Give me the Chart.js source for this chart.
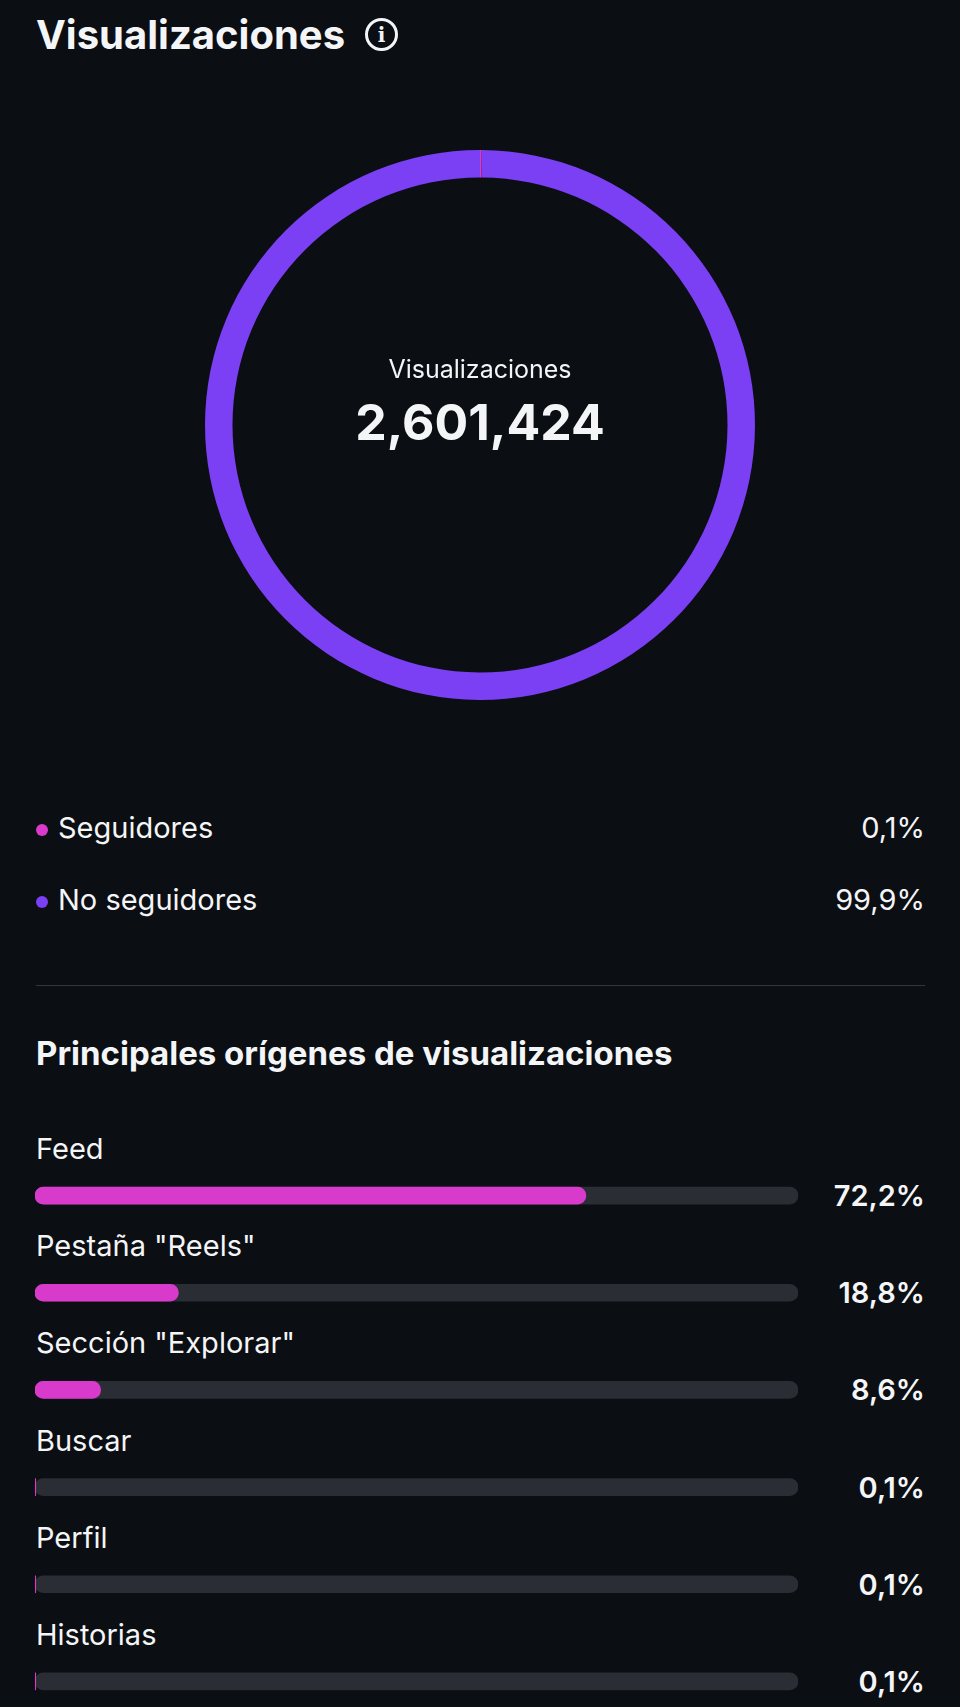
<!DOCTYPE html>
<html>
<head>
<meta charset="utf-8">
<script src="https://cdn.jsdelivr.net/npm/chart.js@4"></script>
<style>
  html, body { margin: 0; padding: 0; background: #0b0e12; overflow: hidden; }
  body { width: 960px; height: 1707px; position: relative; font-family: Inter, "Noto Sans", sans-serif; color: #f4f5f7; }
  .abs { position: absolute; }
  .title { left: 36px; top: 10px; font-size: 40px; font-weight: 700; display: flex; align-items: center; }
  .info { margin-left: 20px; width: 27px; height: 27px; border: 3px solid #f4f5f7; border-radius: 50%; font-size: 20px; font-weight: 800; display: flex; align-items: center; justify-content: center; font-family: "DejaVu Serif", serif; }
  .center { left: 180px; width: 600px; text-align: center; }
  .legend { left: 36px; right: 35px; font-size: 29px; display: flex; justify-content: space-between; align-items: center; }
  .dot { display: inline-block; width: 12px; height: 12px; border-radius: 50%; margin-right: 10px; vertical-align: middle; }
  .divider { left: 36px; right: 35px; top: 985px; height: 1px; background: #33373d; }
  .heading { left: 36px; top: 1033px; font-size: 33px; font-weight: 700; }
  .label { left: 36px; font-size: 29px; }
  .val { right: 35px; font-size: 29px; font-weight: 600; }
</style>
</head>
<body>
<div class="abs title">Visualizaciones <span class="info">i</span></div>

<canvas id="donut" class="abs" style="left:180px;top:125px;width:600px;height:600px"></canvas>
<div class="abs center" style="top:354px;font-size:25px;">Visualizaciones</div>
<div class="abs center" style="top:392px;font-size:50px;font-weight:700;" id="total"></div>

<div id="legend"></div>
<div class="abs divider"></div>
<div class="abs heading">Principales orígenes de visualizaciones</div>
<div id="rows"></div>

<canvas id="bars" class="abs" style="left:35px;top:1147px;width:763px;height:583px"></canvas>

<script>
// Datos
const totalViews = 2601424;
const audienceLabels = ['Seguidores', 'No seguidores'];
const audienceValues = [0.1, 99.9];
const audienceColors = ['#d83acb', '#7b3ff4'];

const sourceLabels = ['Feed', 'Pestaña "Reels"', 'Sección "Explorar"', 'Buscar', 'Perfil', 'Historias'];
const sourceValues = [72.2, 18.8, 8.6, 0.1, 0.1, 0.1];

const fmt = v => v.toFixed(1).replace('.', ',') + '%';

document.getElementById('total').textContent = totalViews.toLocaleString('en-US');

// Leyenda
const legendTops = [810, 882];
document.getElementById('legend').innerHTML = audienceLabels.map((l, i) => `
  <div class="abs legend" style="top:${legendTops[i]}px">
    <span><span class="dot" style="background:${audienceColors[i]}"></span>${l}</span>
    <span>${fmt(audienceValues[i])}</span>
  </div>`).join('');

// Filas de orígenes
const step = 97.2;
document.getElementById('rows').innerHTML = sourceLabels.map((l, i) => `
  <div class="abs label" style="top:${1131 + i * step}px">${l}</div>
  <div class="abs val" style="top:${1178 + i * step}px">${fmt(sourceValues[i])}</div>`).join('');

new Chart(document.getElementById('donut'), {
  type: 'doughnut',
  data: {
    labels: audienceLabels,
    datasets: [{ data: audienceValues, backgroundColor: audienceColors, borderWidth: 0 }]
  },
  options: {
    responsive: false, animation: false, cutout: '90%',
    layout: { padding: 25 },
    plugins: { legend: { display: false }, tooltip: { enabled: false } }
  }
});

new Chart(document.getElementById('bars'), {
  type: 'bar',
  data: {
    labels: sourceLabels,
    datasets: [
      { data: sourceValues, backgroundColor: '#d83acb', borderRadius: 9, borderSkipped: false, barThickness: 17, grouped: false, order: 0 },
      { data: sourceLabels.map(() => 100), backgroundColor: '#2a2d33', borderRadius: 9, borderSkipped: false, barThickness: 17, grouped: false, order: 1 }
    ]
  },
  options: {
    indexAxis: 'y', responsive: false, animation: false,
    layout: { padding: 0 },
    scales: {
      x: { display: false, min: 0, max: 100 },
      y: { display: false }
    },
    plugins: { legend: { display: false }, tooltip: { enabled: false } }
  }
});
</script>
</body>
</html>
